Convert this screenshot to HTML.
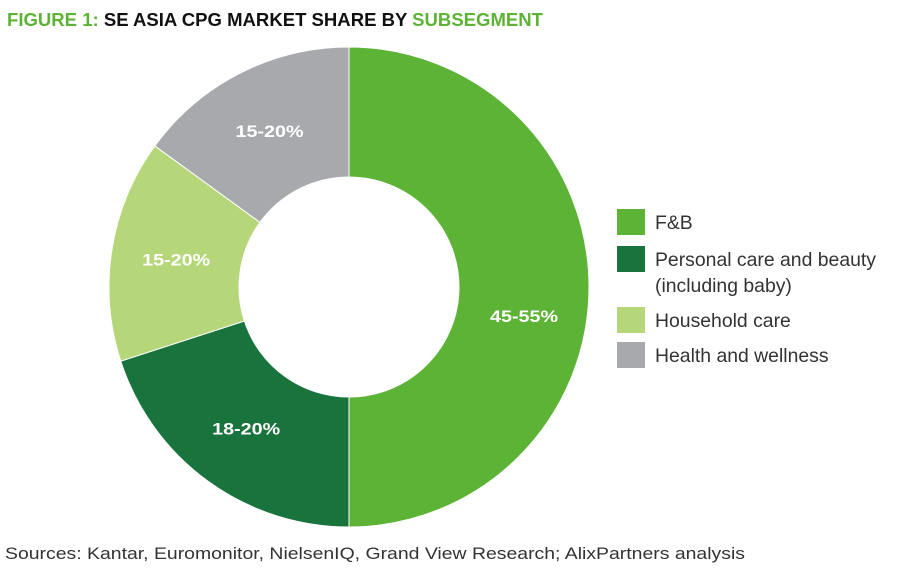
<!DOCTYPE html>
<html><head><meta charset="utf-8"><style>
body{margin:0;background:#fff;}
svg{display:block;font-family:"Liberation Sans",Arial,sans-serif;}
</style></head><body>
<svg id="chart" width="909" height="573" viewBox="0 0 909 573">
<text x="7" y="26" font-size="18" font-weight="bold" textLength="536" lengthAdjust="spacingAndGlyphs"><tspan fill="#5db335">FIGURE 1: </tspan><tspan fill="#111">SE ASIA CPG MARKET SHARE BY </tspan><tspan fill="#5db335">SUBSEGMENT</tspan></text>
<g id="slices"></g>
<g id="labels"></g>
<g id="legend"></g>
<text x="5" y="559" font-size="17" fill="#333" textLength="740" lengthAdjust="spacingAndGlyphs">Sources: Kantar, Euromonitor, NielsenIQ, Grand View Research; AlixPartners analysis</text>
</svg>
<script>
const categories=["F&B","Personal care and beauty (including baby)","Household care","Health and wellness"];
const legendLines=[["F&B"],["Personal care and beauty","(including baby)"],["Household care"],["Health and wellness"]];
const shares=[50,20,15,15];
const labels=["45-55%","18-20%","15-20%","15-20%"];
const colors=["#5db335","#18733c","#b5d77a","#a7a9ac"];
const NS="http://www.w3.org/2000/svg";
const cx=349,cy=287,R=240,r=110,lr=175;
const total=shares.reduce((a,b)=>a+b,0);
const pt=(a,rad)=>[cx+rad*Math.sin(a),cy-rad*Math.cos(a)];
let acc=0;
const gS=document.getElementById('slices'),gL=document.getElementById('labels'),gG=document.getElementById('legend');
shares.forEach((v,i)=>{
  const a0=acc/total*2*Math.PI;acc+=v;const a1=acc/total*2*Math.PI;
  const large=(a1-a0)>Math.PI?1:0;
  const [x0,y0]=pt(a0,R),[x1,y1]=pt(a1,R),[x2,y2]=pt(a1,r),[x3,y3]=pt(a0,r);
  const p=document.createElementNS(NS,'path');
  p.setAttribute('d',`M${x0},${y0}A${R},${R} 0 ${large} 1 ${x1},${y1}L${x2},${y2}A${r},${r} 0 ${large} 0 ${x3},${y3}Z`);
  p.setAttribute('fill',colors[i]);p.setAttribute('stroke','#fff');p.setAttribute('stroke-width','1');
  
  
  gS.appendChild(p);
  const am=(a0+a1)/2;const [lx,ly]=pt(am,lr);
  const t=document.createElementNS(NS,'text');
  t.setAttribute('x',lx-34);t.setAttribute('y',ly+(i===0?29:0)+6);
  t.setAttribute('textLength','68');t.setAttribute('lengthAdjust','spacingAndGlyphs');
  t.setAttribute('fill','#fff');
  t.setAttribute('font-size','17');t.setAttribute('font-weight','bold');
  t.textContent=labels[i];
  
  
  gL.appendChild(t);
});
const rowY=[222,259,320,355];
legendLines.forEach((lines,i)=>{
  const g=document.createElementNS(NS,'g');
  
  
  const s=document.createElementNS(NS,'rect');
  s.setAttribute('x',617);s.setAttribute('y',rowY[i]-13);s.setAttribute('width',28);s.setAttribute('height',26);
  s.setAttribute('fill',colors[i]);
  
  
  g.appendChild(s);
  lines.forEach((ln,j)=>{
    const t=document.createElementNS(NS,'text');
    t.setAttribute('x',655);t.setAttribute('y',rowY[i]+7+j*26);
    t.setAttribute('font-size','19.4');t.setAttribute('fill','#333');
    t.textContent=ln;
    
    
    g.appendChild(t);
  });
  gG.appendChild(g);
});
</script>
</body></html>
